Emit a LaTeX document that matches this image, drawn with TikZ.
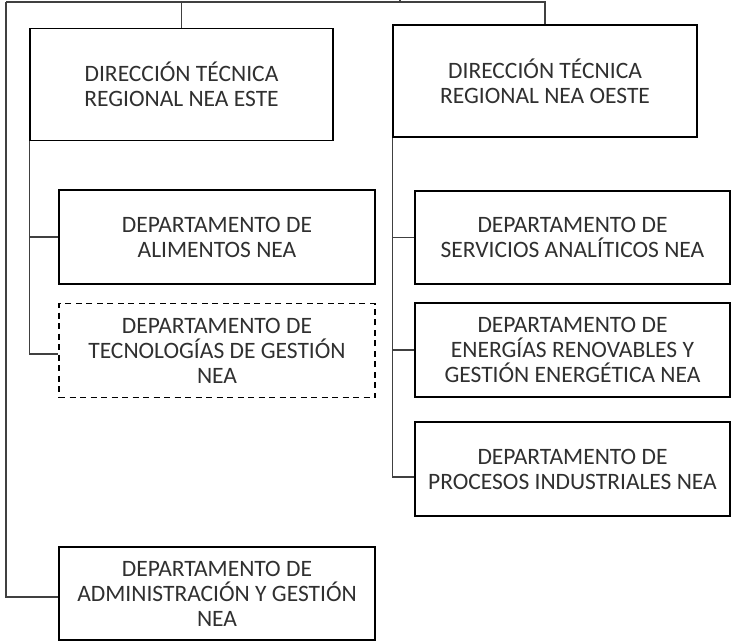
\documentclass[tikz,border=0pt]{standalone}
\usepackage{fontspec}
\setmainfont{Carlito}
\usepackage{xcolor}
\usepackage{tikz}
\usetikzlibrary{positioning}
\definecolor{orgInk}{HTML}{303030}
\definecolor{orgLine}{HTML}{404040}
\tikzset{
  org diagram/.style={x=1pt, y=-1pt, text=orgInk,
    font=\fontsize{23.5}{25}\selectfont},
  org box/.style={draw=black, fill=white, line width=1.5pt,
    align=center, inner sep=0pt, minimum width=316pt, minimum height=94pt},
  org head/.style={org box, minimum width=303pt, minimum height=112pt},
  org draft/.style={org box, dashed, dash pattern=on 6pt off 4.5pt},
  org link/.style={draw=orgLine, line width=1.1pt}
}
\begin{document}
\begin{tikzpicture}[org diagram]
\useasboundingbox (0,0) rectangle (736,642);
\coordinate (parent) at (400,0);
\coordinate (busL) at (6,2);
\node[org head] (este) at (181.5,84.5) {DIRECCIÓN TÉCNICA\\REGIONAL NEA ESTE};
\node[org head, minimum width=304pt] (oeste) at (545,81) {DIRECCIÓN TÉCNICA\\REGIONAL NEA OESTE};
\node[org box] (alimentos) at (217,237) {DEPARTAMENTO DE\\ALIMENTOS NEA};
\node[org draft] (tecnologias) at (217,350.5) {DEPARTAMENTO DE\\TECNOLOGÍAS DE GESTIÓN\\NEA};
\node[org box, minimum height=93pt] (admin) at (217,593.5) {DEPARTAMENTO DE\\ADMINISTRACIÓN Y GESTIÓN\\NEA};
\node[org box, minimum width=315pt, minimum height=93pt] (servicios) at (572.5,237.5) {DEPARTAMENTO DE\\SERVICIOS ANALÍTICOS NEA};
\node[org box, minimum width=315pt] (energias) at (572.5,350) {DEPARTAMENTO DE\\ENERGÍAS RENOVABLES Y\\GESTIÓN ENERGÉTICA NEA};
\node[org box, minimum width=315pt] (procesos) at (572.5,469) {DEPARTAMENTO DE\\PROCESOS INDUSTRIALES NEA};
% top bus
\draw[org link] (parent) -- (parent |- busL);
\draw[org link] (busL) -| (oeste.north);
\draw[org link] (este.north) -- (este.north |- busL);
\draw[org link] (busL) |- ([yshift=-3.5pt]admin.west);
% este branch
\draw[org link] (este.south west) |- ([yshift=-3.5pt]tecnologias.west);
\draw[org link] (este.south west |- alimentos.west) -- (alimentos.west);
% oeste branch
\draw[org link] (oeste.south west) |- ([yshift=-8pt]procesos.west);
\draw[org link] (oeste.south west |- servicios.west) -- (servicios.west);
\draw[org link] (oeste.south west |- energias.west) -- (energias.west);
\end{tikzpicture}
\end{document}
